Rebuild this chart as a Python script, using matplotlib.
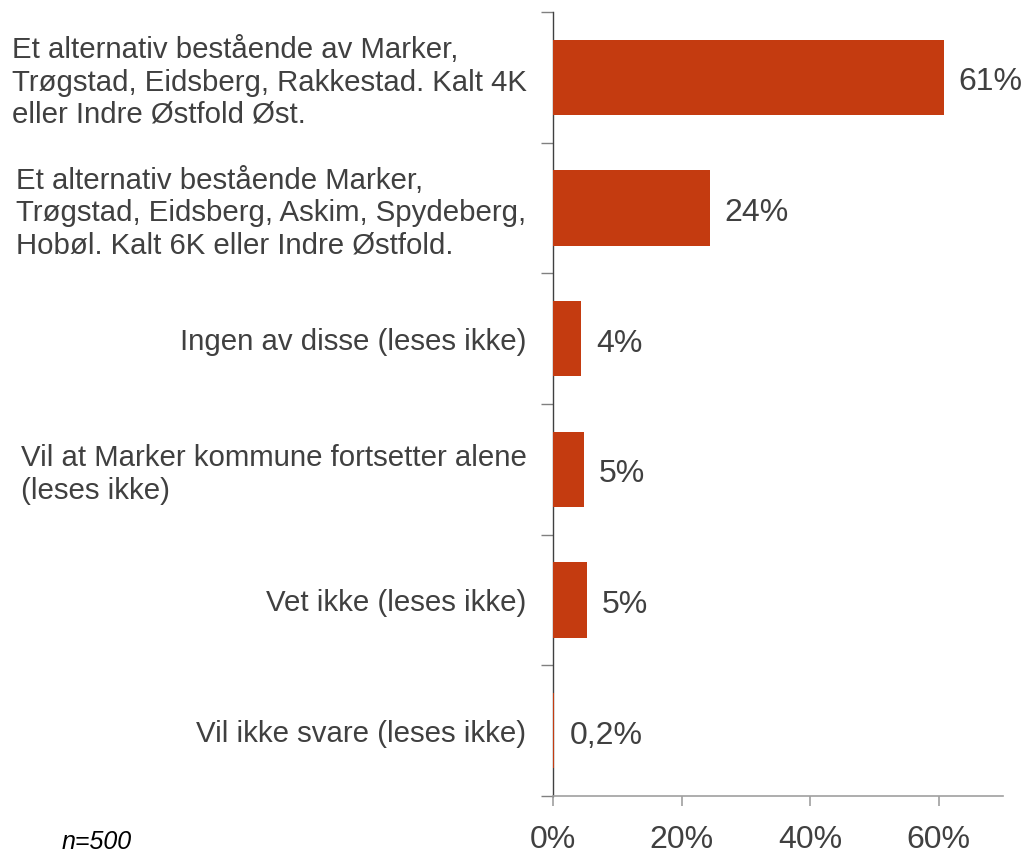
import matplotlib
matplotlib.use("Agg")
import matplotlib.pyplot as plt
import numpy as np

categories = [
    "Et alternativ bestående av Marker,\nTrøgstad, Eidsberg, Rakkestad. Kalt 4K\neller Indre Østfold Øst.",
    "Et alternativ bestående Marker,\nTrøgstad, Eidsberg, Askim, Spydeberg,\nHobøl. Kalt 6K eller Indre Østfold.",
    "Ingen av disse (leses ikke)",
    "Vil at Marker kommune fortsetter alene\n(leses ikke)",
    "Vet ikke (leses ikke)",
    "Vil ikke svare (leses ikke)",
]
values = [60.8, 24.4, 4.4, 4.8, 5.3, 0.2]
value_labels = ["61%", "24%", "4%", "5%", "5%", "0,2%"]
xticks = [0, 20, 40, 60]
xtick_labels = ["0%", "20%", "40%", "60%"]
note = "n=500"

plt.rcParams['font.family'] = ['Liberation Sans', 'DejaVu Sans']
text_color = "#404040"
bar_color = "#C43B10"

W, H = 1027, 857
fig = plt.figure(figsize=(W / 100, H / 100), dpi=100)
ax = fig.add_axes([553 / W, 1 - 796 / H, (1003 - 553) / W, (796 - 12) / H])

y = np.arange(len(categories))
ax.barh(y, values, height=0.575, color=bar_color, zorder=3)
for yi, v, lab in zip(y, values, value_labels):
    ax.annotate(lab, (v, yi), xytext=(15, -5), textcoords="offset pixels",
                ha="left", va="center", fontsize=23, color=text_color)

ax.set_xlim(0, 70)
ax.set_ylim(len(categories) - 0.5, -0.5)

ax.set_yticks(y)
ax.set_yticklabels(categories, fontsize=21.2, color=text_color, multialignment="left",
                   linespacing=1.2)
ax.tick_params(axis="y", which="major", length=0, pad=19)
ax.set_yticks(np.arange(-0.5, len(categories)), minor=True)
ax.tick_params(axis="y", which="minor", length=8.6, width=1, color="#808080", direction="out")

ax.set_xticks(xticks)
ax.set_xticklabels(xtick_labels, fontsize=23, color=text_color)
ax.tick_params(axis="x", length=7, width=1.2, color="#a0a0a0", pad=14)

for s in ["top", "right"]:
    ax.spines[s].set_visible(False)
ax.spines["left"].set_color("#404040")
ax.spines["left"].set_linewidth(1)
ax.spines["bottom"].set_color("#a0a0a0")
ax.spines["bottom"].set_linewidth(1.2)

fig.text(62 / W, 1 - 849 / H, note, fontsize=18, style="italic", color="#000000",
         ha="left", va="baseline")

fig.savefig("out.png", dpi=100, facecolor="white")
